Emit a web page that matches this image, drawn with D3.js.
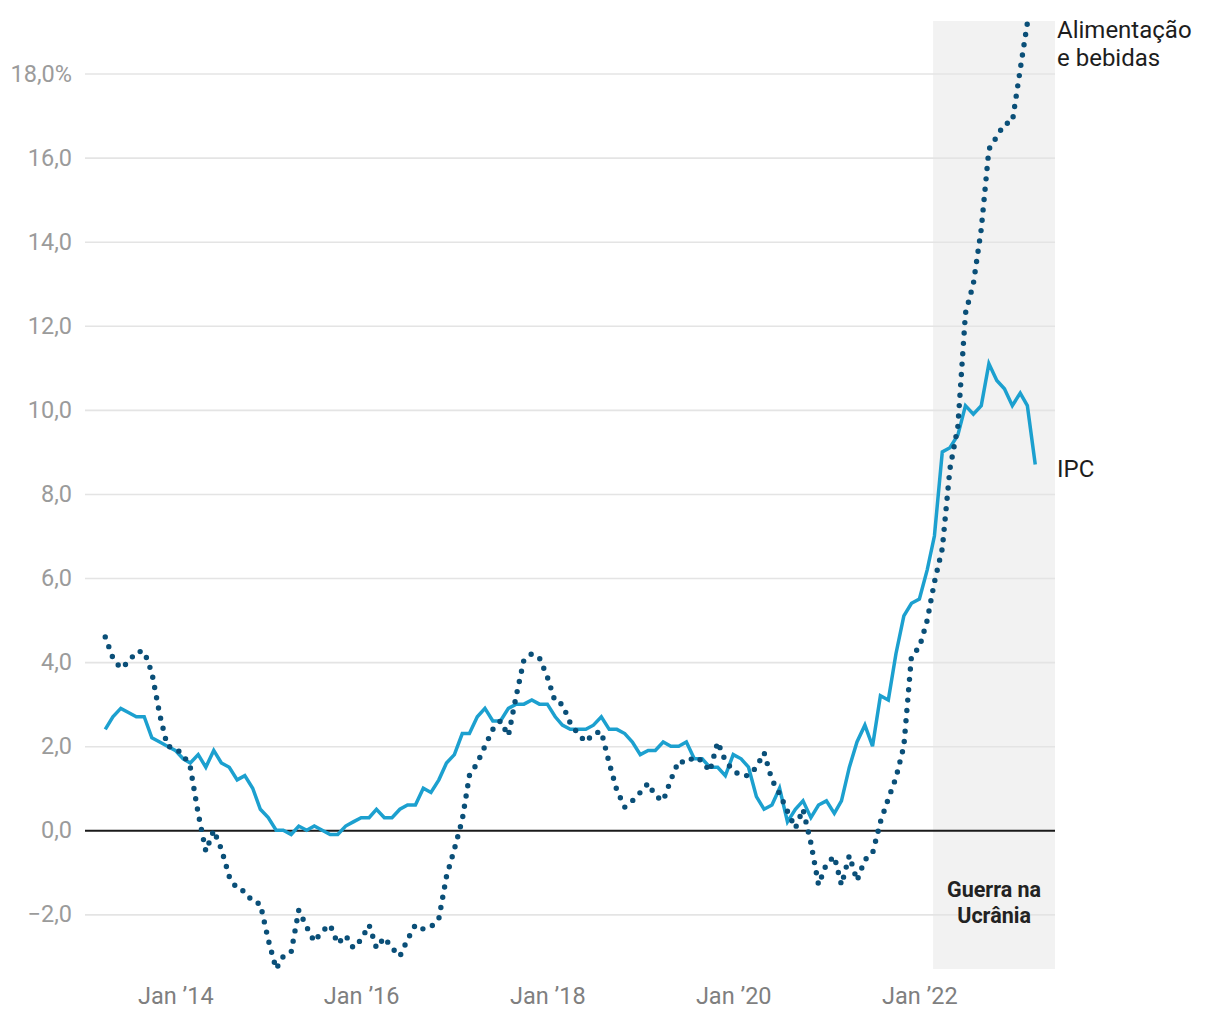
<!DOCTYPE html>
<html>
<head>
<meta charset="utf-8">
<script src="https://cdn.jsdelivr.net/npm/d3@7"></script>
<style>
  html, body { margin: 0; padding: 0; background: #ffffff; }
  svg { display: block; font-family: Roboto, "Noto Sans", sans-serif; }
</style>
</head>
<body>
<svg id="chart" width="1220" height="1020"></svg>
<script>
// ---- Data (monthly, starting April 2013) ----
const startMonth = [2013, 3]; // April 2013 (month index 3)

const ipcValues = [
  2.4, 2.7, 2.9, 2.8, 2.7, 2.7, 2.2, 2.1, 2.0,
  1.9, 1.7, 1.6, 1.8, 1.5, 1.9, 1.6, 1.5, 1.2, 1.3, 1.0, 0.5,
  0.3, 0.0, 0.0, -0.1, 0.1, 0.0, 0.1, 0.0, -0.1, -0.1, 0.1, 0.2,
  0.3, 0.3, 0.5, 0.3, 0.3, 0.5, 0.6, 0.6, 1.0, 0.9, 1.2, 1.6,
  1.8, 2.3, 2.3, 2.7, 2.9, 2.6, 2.6, 2.9, 3.0, 3.0, 3.1, 3.0,
  3.0, 2.7, 2.5, 2.4, 2.4, 2.4, 2.5, 2.7, 2.4, 2.4, 2.3, 2.1,
  1.8, 1.9, 1.9, 2.1, 2.0, 2.0, 2.1, 1.7, 1.7, 1.5, 1.5, 1.3,
  1.8, 1.7, 1.5, 0.8, 0.5, 0.6, 1.0, 0.2, 0.5, 0.7, 0.3, 0.6,
  0.7, 0.4, 0.7, 1.5, 2.1, 2.5, 2.0, 3.2, 3.1, 4.2, 5.1, 5.4,
  5.5, 6.2, 7.0, 9.0, 9.1, 9.4, 10.1, 9.9, 10.1, 11.1, 10.7, 10.5,
  10.1, 10.4, 10.1, 8.7
];

const foodValues = [
  4.6, 4.1, 3.85, 4.0, 4.25, 4.25, 3.75, 2.75, 2.0,
  1.95, 1.8, 1.5, 0.4, -0.5, 0.0, -0.45, -1.1, -1.4, -1.45, -1.7, -1.75,
  -2.6, -3.3, -3.0, -2.9, -1.9, -2.3, -2.65, -2.4, -2.25, -2.7, -2.5, -2.8,
  -2.6, -2.25, -2.8, -2.55, -2.8, -3.0, -2.6, -2.25, -2.35, -2.3, -2.1, -1.1,
  -0.45, 0.25, 1.3, 1.6, 2.0, 2.4, 2.6, 2.25, 3.2, 4.05, 4.2, 4.1,
  3.65, 3.05, 3.0, 2.55, 2.3, 2.1, 2.3, 2.35, 1.6, 0.95, 0.55, 0.7,
  0.9, 1.12, 0.82, 0.7, 1.2, 1.65, 1.6, 1.75, 1.65, 1.4, 2.1, 1.65,
  1.42, 1.3, 1.3, 1.5, 1.85, 1.2, 0.87, 0.45, 0.05, 0.5, -0.3, -1.3,
  -0.8, -0.62, -1.3, -0.6, -1.2, -0.7, -0.55, 0.2, 0.75, 1.25, 2.0, 4.15,
  4.35, 5.0, 5.9, 6.7, 8.6, 9.6, 12.3, 13.0, 14.3, 16.2, 16.5, 16.8,
  16.85, 18.1, 19.2
];

const xTickYears = [2014, 2016, 2018, 2020, 2022];
const xTickLabels = ["Jan ’14", "Jan ’16", "Jan ’18", "Jan ’20", "Jan ’22"];
const yTickValues = [-2, 0, 2, 4, 6, 8, 10, 12, 14, 16, 18];
const yTickLabels = ["−2,0", "0,0", "2,0", "4,0", "6,0", "8,0", "10,0", "12,0", "14,0", "16,0", "18,0%"];

const seriesNames = ["IPC", "Alimentação e bebidas"];
const foodLabelLines = ["Alimentação", "e bebidas"];
const warStart = [2022, 1, 24];
const warLabel = ["Guerra na", "Ucrânia"];

// ---- Layout ----
const plotLeft = 85, plotRight = 1055, plotTop = 21, plotBottom = 969;

const monthDate = i => new Date(startMonth[0], startMonth[1] + i, 1);
const ipc = ipcValues.map((v, i) => ({ date: monthDate(i), value: v }));
const food = foodValues.map((v, i) => ({ date: monthDate(i), value: v }));

const x = d3.scaleTime()
  .domain([monthDate(0), monthDate(ipcValues.length - 1)])
  .range([105.25, 1035.25]);

const y = d3.scaleLinear()
  .domain([-3.3, 19.25])
  .range([plotBottom, plotTop]);

const svg = d3.select("#chart");

// war shading
const wx = x(new Date(warStart[0], warStart[1], warStart[2]));
svg.append("rect")
  .attr("x", wx).attr("y", plotTop)
  .attr("width", plotRight - wx).attr("height", plotBottom - plotTop)
  .attr("fill", "#f2f2f2");

// gridlines + y labels
const yAxis = d3.axisLeft(y)
  .tickValues(yTickValues)
  .tickSize(-(plotRight - plotLeft))
  .tickPadding(13)
  .tickFormat((d, i) => yTickLabels[i]);

const gy = svg.append("g")
  .attr("transform", `translate(${plotLeft},0)`)
  .call(yAxis);
gy.select(".domain").remove();
gy.selectAll(".tick line")
  .attr("stroke", d => d === 0 ? "#1a1a1a" : "#e4e4e4")
  .attr("stroke-width", d => d === 0 ? 2 : 1.6);
gy.selectAll(".tick text")
  .attr("fill", "#9b9b9b")
  .attr("font-size", 23.5)
  .attr("font-family", "Roboto, sans-serif");
gy.selectAll(".tick").filter(d => d === 0).raise();

// x axis labels
const xAxis = d3.axisBottom(x)
  .tickValues(xTickYears.map(yr => new Date(yr, 0, 1)))
  .tickSize(0)
  .tickPadding(0)
  .tickFormat((d, i) => xTickLabels[i]);
const gx = svg.append("g")
  .attr("transform", `translate(0,${plotBottom + 18})`)
  .call(xAxis);
gx.select(".domain").remove();
gx.selectAll(".tick text")
  .attr("fill", "#7f7f7f")
  .attr("font-size", 23.5)
  .attr("font-family", "Roboto, sans-serif");

// lines
const line = d3.line().x(d => x(d.date)).y(d => y(d.value));

svg.append("path")
  .datum(ipc)
  .attr("d", line)
  .attr("fill", "none")
  .attr("stroke", "#1ca0cf")
  .attr("stroke-width", 3.5)
  .attr("stroke-linejoin", "miter");

svg.append("path")
  .datum(food)
  .attr("d", line)
  .attr("fill", "none")
  .attr("stroke", "#0a4f78")
  .attr("stroke-width", 5.4)
  .attr("stroke-linecap", "round")
  .attr("stroke-dasharray", "0 10.4");

// labels
const foodLbl = svg.append("text")
  .attr("font-size", 24).attr("fill", "#1d1d1d");
foodLabelLines.forEach((t, i) => {
  foodLbl.append("tspan").attr("x", 1057).attr("y", 38 + i * 28).text(t);
});

svg.append("text")
  .attr("x", 1057).attr("y", 477)
  .attr("font-size", 24).attr("fill", "#1d1d1d")
  .text(seriesNames[0]);

const war = svg.append("text")
  .attr("text-anchor", "middle")
  .attr("font-size", 21.5).attr("font-weight", "bold").attr("fill", "#222");
warLabel.forEach((t, i) => {
  war.append("tspan").attr("x", (wx + plotRight) / 2).attr("y", 897 + i * 26).text(t);
});
</script>
</body>
</html>
